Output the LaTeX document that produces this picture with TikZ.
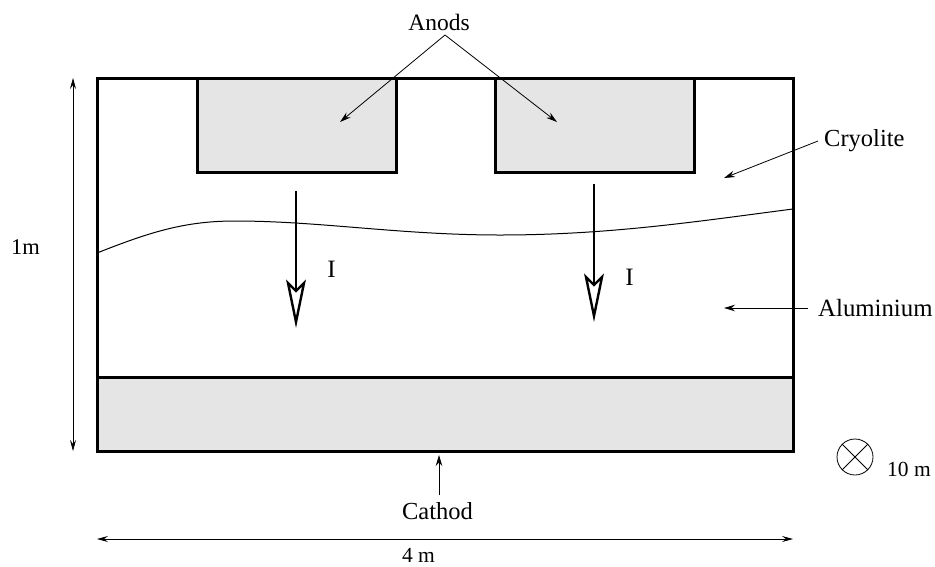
\documentclass[tikz,border=0pt]{standalone}
\usepackage{fontspec}
\setmainfont{Liberation Serif}
\usetikzlibrary{arrows.meta}
\definecolor{fillgray}{gray}{0.898}
\newcommand{\lblsize}[1]{\fontsize{#1}{26}\selectfont}
\tikzset{
  x=1pt,y=-1pt,
  box/.style={draw=black,line width=2.4pt,line join=miter},
  grayfill/.style={box,fill=fillgray},
  thin arrow/.style={draw=black,line width=0.8pt,-{Stealth[length=11pt,width=6.5pt]}},
  dim arrow/.style={draw=black,line width=0.7pt,{Stealth[length=11pt,width=6pt,inset=4pt]}-{Stealth[length=11pt,width=6pt,inset=4pt]}},
  label/.style={inner sep=0pt,text=black},
  current/.style={draw=black,line width=2.4pt},
  hollow/.style={draw=black,line width=2.4pt,fill=white,miter limit=10},
}
\begin{document}
\begin{tikzpicture}
\useasboundingbox (0,0) rectangle (935,566);
% cell
\node[box,minimum width=696pt,minimum height=373pt,inner sep=0pt,anchor=north west] (cell) at (96.4,77.4) {};
\node[grayfill,minimum width=199pt,minimum height=94pt,inner sep=0pt,anchor=north west] (anodeL) at (196.4,77.4) {};
\node[grayfill,minimum width=199pt,minimum height=94pt,inner sep=0pt,anchor=north west] (anodeR) at (494.4,77.4) {};
\node[grayfill,minimum width=696pt,minimum height=74pt,inner sep=0pt,anchor=north west] (cathode) at (96.4,376.4) {};
% interface
\coordinate (ifL) at (97,253);
\coordinate (ifR) at (793,209);
\draw[black,line width=1pt] (ifL) .. controls (150,232) and (185,221) .. (235,221)
  .. controls (320,221) and (400,235) .. (500,235)
  .. controls (610,235) and (700,221) .. (ifR);
% currents
\coordinate (i1s) at (296,191); \coordinate (i1e) at (296,292);
\coordinate (i2s) at (594,184); \coordinate (i2e) at (594,286);
\draw[current] (i1s) -- (i1e);
\draw[current] (i2s) -- (i2e);
\draw[hollow] (288,283) -- (296,291) -- (304,283) -- (296,322) -- cycle;
\draw[hollow] (586,277) -- (594,285) -- (602,277) -- (594,316) -- cycle;
\node[label,font=\lblsize{25}] (iL) at (331.5,269) {I};
\node[label,font=\lblsize{25}] (iR) at (629.5,277) {I};
% labels
\node[label,font=\lblsize{23.5}] (anods) at (439,22) {Anods};
\node[label,anchor=west,font=\lblsize{24.5}] (cryo) at (824,141) {Cryolite};
\node[label,anchor=west,font=\lblsize{24.8}] (alu) at (818,308) {Aluminium};
\node[label,font=\lblsize{24.5}] (cath) at (437.5,511) {Cathod};
\node[label,font=\lblsize{22.5}] (one) at (25.5,247) {1m};
\node[label,anchor=base,font=\lblsize{21.5}] (four) at (418.5,562) {4 m};
\node[label,anchor=base west,font=\lblsize{21.5}] (ten) at (887,476) {10 m};
% pointers
\coordinate (apex) at (445,35);
\coordinate (aL) at (340,122);
\coordinate (aR) at (557,122);
\draw[thin arrow] (apex) -- (aL);
\draw[thin arrow] (apex) -- (aR);
\coordinate (cryoT) at (724,178);
\draw[thin arrow] (cryo.west) ++(-6,0) -- (cryoT);
\coordinate (aluT) at (724,308);
\draw[thin arrow] (alu.west) ++(-10,0) -- (aluT);
\coordinate (cathT) at (439,455);
\coordinate (cathS) at (439,495);
\draw[thin arrow] (cathS) -- (cathT);
% dimensions
\coordinate (vT) at (73,78); \coordinate (vB) at (73,451);
\draw[dim arrow] (vT) -- (vB);
\coordinate (hL) at (97,539); \coordinate (hR) at (793,539);
\draw[dim arrow] (hL) -- (hR);
% out-of-plane symbol
\node[draw=black,line width=0.8pt,circle,minimum size=36pt,inner sep=0pt] (depth) at (855,457) {};
\draw[black,line width=0.8pt] (depth.north west) -- (depth.south east);
\draw[black,line width=0.8pt] (depth.north east) -- (depth.south west);
\end{tikzpicture}
\end{document}
